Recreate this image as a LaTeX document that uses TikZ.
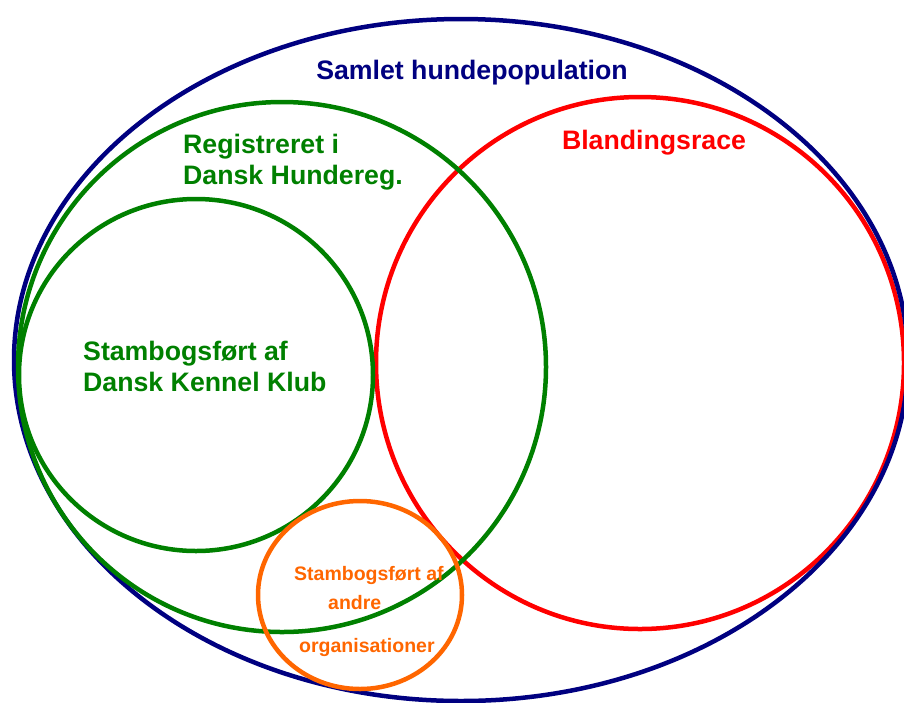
\documentclass[tikz,border=0pt]{standalone}
\usepackage{fontspec}
\setmainfont{Liberation Sans}
\usepackage{tikz}

\definecolor{navy}{RGB}{0,0,128}
\definecolor{kgreen}{RGB}{0,128,0}
\definecolor{korange}{RGB}{255,102,0}

\begin{document}
\begin{tikzpicture}[x=1pt,y=-1pt]
\tikzstyle{kreds}=[line width=4.5pt]
\tikzstyle{label}=[inner sep=0pt,anchor=base west,font=\bfseries\fontsize{26.7}{31}\selectfont]
\tikzstyle{smalllabel}=[inner sep=0pt,anchor=base west,font=\bfseries\fontsize{19.5}{23}\selectfont,text=korange]
\useasboundingbox (0,0) rectangle (904,702);
\draw[kreds,red] (640,363) circle [x radius=264, y radius=-266];
\draw[kreds,navy] (461,360) ellipse [x radius=447, y radius=-341];
\draw[kreds,kgreen] (282,367) circle [x radius=264, y radius=-265];
\draw[kreds,kgreen] (196,375) circle [x radius=177, y radius=-176];
\draw[kreds,korange] (360,595) ellipse [x radius=102, y radius=-94];
\node[label,anchor=base,text=navy] (samlet) at (472,79) {Samlet hundepopulation};
\node[label,anchor=base,text=red] (blanding) at (654,149) {Blandingsrace};
\node[label,text=kgreen] (reg1) at (183,153) {Registreret i};
\node[label,text=kgreen] (reg2) at (183,184) {Dansk Hundereg.};
\node[label,text=kgreen] (dkk1) at (83,360) {Stambogsført af};
\node[label,text=kgreen] (dkk2) at (83,391) {Dansk Kennel Klub};
\node[smalllabel] (andre1) at (294,580) {Stambogsført af};
\node[smalllabel] (andre2) at (328,609) {andre};
\node[smalllabel] (andre3) at (299,652) {organisationer};
\end{tikzpicture}
\end{document}
